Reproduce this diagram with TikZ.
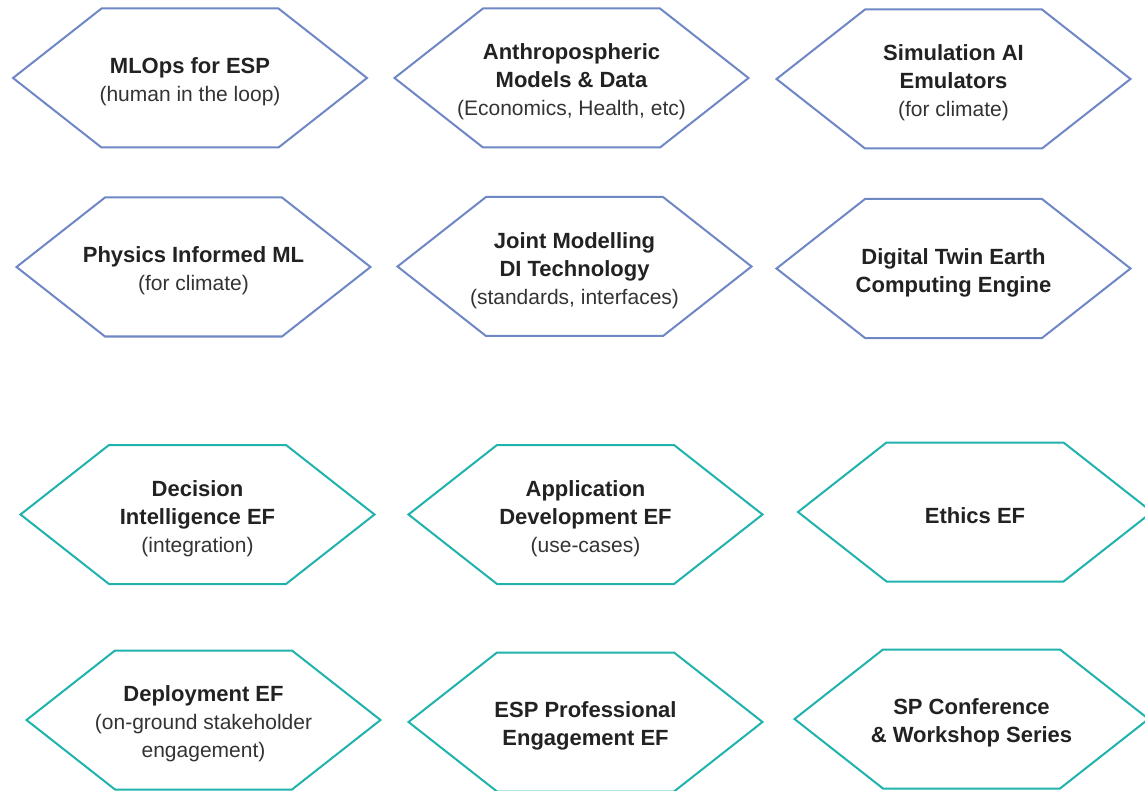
\documentclass[tikz,border=0pt]{standalone}
\usepackage{fontspec}
\setmainfont{Liberation Sans}
\definecolor{hexblue}{HTML}{6E87C5}
\definecolor{hexteal}{HTML}{20B3AD}
\definecolor{txt}{HTML}{222222}
\definecolor{subtxt}{HTML}{333333}
\tikzset{
  hexlabel/.style={align=center, text=txt, inner sep=0pt, yshift=-4pt, font=\fontsize{22}{28}\selectfont\bfseries},
  hexbase/.style={line width=2pt, fill=white, line join=miter},
  hexblue/.style={hexbase, draw=hexblue},
  hexteal/.style={hexbase, draw=hexteal}
}
\newcommand{\sbt}[1]{{\fontsize{21}{27}\selectfont\mdseries\color{subtxt}#1}}
\newcommand{\hexa}[5]{%
  \begin{scope}[shift={(#2,#3)}]
    \draw[#4] (-177,0) -- (-88.5,-69.5) -- (88.5,-69.5) -- (177,0) -- (88.5,69.5) -- (-88.5,69.5) -- cycle;
  \end{scope}
  \node[hexlabel] (#1) at (#2,#3) {#5};
}
\begin{document}
\begin{tikzpicture}[x=1pt,y=-1pt]
  \useasboundingbox (0,0) rectangle (1145,791);
  \clip (0,0) rectangle (1145,791);
  \fill[white] (0,0) rectangle (1145,791);
  % row 1
  \hexa{mlops}{190}{78}{hexblue}{MLOps for ESP\\\sbt{(human in the loop)}}
  \hexa{anthro}{571.5}{78}{hexblue}{Anthropospheric\\Models \& Data\\\sbt{(Economics, Health, etc)}}
  \hexa{simai}{953.5}{79}{hexblue}{Simulation AI\\Emulators\\\sbt{(for climate)}}
  % row 2
  \hexa{piml}{193.5}{267}{hexblue}{Physics Informed ML\\\sbt{(for climate)}}
  \hexa{joint}{574.5}{266.5}{hexblue}{Joint Modelling\\DI Technology\\\sbt{(standards, interfaces)}}
  \hexa{twin}{953.5}{268.5}{hexblue}{Digital Twin Earth\\Computing Engine}
  % row 3
  \hexa{decision}{197.5}{514.5}{hexteal}{Decision\\Intelligence EF\\\sbt{(integration)}}
  \hexa{appdev}{585.5}{514.5}{hexteal}{Application\\Development EF\\\sbt{(use-cases)}}
  \hexa{ethics}{975}{512}{hexteal}{Ethics EF}
  % row 4
  \hexa{deploy}{203.5}{720}{hexteal}{Deployment EF\\\sbt{(on-ground stakeholder}\\\sbt{engagement)}}
  \hexa{profeng}{585.5}{722}{hexteal}{ESP Professional\\Engagement EF}
  \hexa{conf}{971.5}{719}{hexteal}{SP Conference\\\& Workshop Series}
\end{tikzpicture}
\end{document}
